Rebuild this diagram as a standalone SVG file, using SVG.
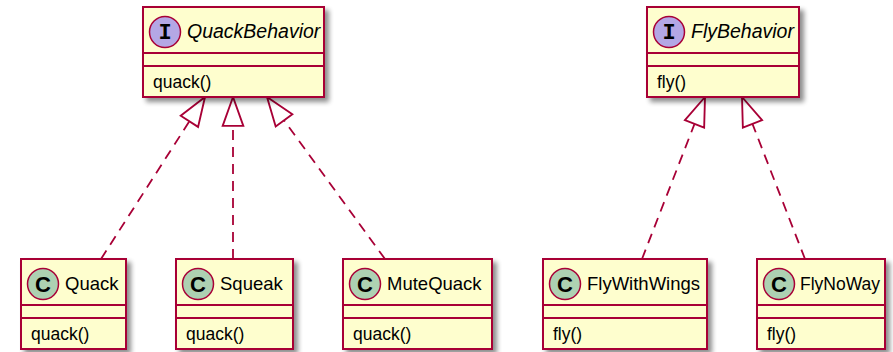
<svg xmlns="http://www.w3.org/2000/svg" width="893" height="352" viewBox="0 0 893 352">
<style>
.box{fill:#FEFECE;stroke:#A80036;stroke-width:2;filter:url(#sh)}
.div{stroke:#A80036;stroke-width:2}
.ci{fill:#B4A7E5;stroke:#A80036;stroke-width:1.5}
.cc{fill:#ADD1B2;stroke:#A80036;stroke-width:1.5}
.name{font-family:"Liberation Sans",Arial,sans-serif;font-size:18.5px;fill:#000}
.iname{font-family:"Liberation Sans",Arial,sans-serif;font-size:19.5px;font-style:italic;fill:#000}
.mem{font-family:"Liberation Sans",Arial,sans-serif;font-size:17.5px;fill:#000}
.lc{font-family:"Liberation Sans",Arial,sans-serif;font-size:22px;font-weight:bold;fill:#000;text-anchor:middle}
.li{font-family:"Liberation Mono","Courier New",monospace;font-size:22px;font-weight:bold;fill:#000;text-anchor:middle}
.edge{fill:none;stroke:#A80036;stroke-width:1.8;stroke-dasharray:10,7;marker-end:url(#tri)}
</style>
<defs>
<filter id="sh" x="-10%" y="-10%" width="130%" height="130%">
<feGaussianBlur in="SourceAlpha" stdDeviation="2.5"/>
<feOffset dx="4" dy="4" result="b"/>
<feComponentTransfer><feFuncA type="linear" slope="0.45"/></feComponentTransfer>
<feMerge><feMergeNode/><feMergeNode in="SourceGraphic"/></feMerge>
</filter>
<marker id="tri" markerUnits="userSpaceOnUse" markerWidth="32" markerHeight="24" viewBox="-1 -1 31 22" refX="28" refY="10" orient="auto" overflow="visible">
<path d="M28,10 L0,0 L0,20 Z" fill="#FFFFFF" stroke="#A80036" stroke-width="1.8" stroke-dasharray="none"/>
</marker>
</defs>

<g id="connectors">
<line class="edge" x1="101" y1="259" x2="205" y2="97"/>
<line class="edge" x1="233" y1="259" x2="233" y2="97"/>
<line class="edge" x1="385" y1="259" x2="267" y2="97"/>
<line class="edge" x1="642" y1="259" x2="705" y2="97"/>
<line class="edge" x1="805" y1="259" x2="742" y2="97"/>
</g>

<g id="QuackBehavior">
<rect class="box" x="143" y="7" width="181" height="90"/>
<line class="div" x1="143" y1="53" x2="324" y2="53"/>
<line class="div" x1="143" y1="66" x2="324" y2="66"/>
<circle class="ci" cx="165" cy="32" r="15.5"/>
<text class="li" x="165" y="39">I</text>
<text class="iname" x="187" y="38">QuackBehavior</text>
<text class="mem" x="153" y="88">quack()</text>
</g>

<g id="FlyBehavior">
<rect class="box" x="647" y="7" width="152" height="90"/>
<line class="div" x1="647" y1="53" x2="799" y2="53"/>
<line class="div" x1="647" y1="66" x2="799" y2="66"/>
<circle class="ci" cx="669" cy="32" r="15.5"/>
<text class="li" x="669" y="39">I</text>
<text class="iname" x="691" y="38">FlyBehavior</text>
<text class="mem" x="657" y="88">fly()</text>
</g>

<g id="Quack">
<rect class="box" x="21" y="259" width="105" height="90"/>
<line class="div" x1="21" y1="305" x2="126" y2="305"/>
<line class="div" x1="21" y1="318" x2="126" y2="318"/>
<circle class="cc" cx="43" cy="284" r="15.5"/>
<text class="lc" x="43" y="292">C</text>
<text class="name" x="65" y="290">Quack</text>
<text class="mem" x="31" y="340">quack()</text>
</g>

<g id="Squeak">
<rect class="box" x="176" y="259" width="117" height="90"/>
<line class="div" x1="176" y1="305" x2="293" y2="305"/>
<line class="div" x1="176" y1="318" x2="293" y2="318"/>
<circle class="cc" cx="198" cy="284" r="15.5"/>
<text class="lc" x="198" y="292">C</text>
<text class="name" x="220" y="290">Squeak</text>
<text class="mem" x="186" y="340">quack()</text>
</g>

<g id="MuteQuack">
<rect class="box" x="343" y="259" width="149" height="90"/>
<line class="div" x1="343" y1="305" x2="492" y2="305"/>
<line class="div" x1="343" y1="318" x2="492" y2="318"/>
<circle class="cc" cx="365" cy="284" r="15.5"/>
<text class="lc" x="365" y="292">C</text>
<text class="name" x="387" y="290">MuteQuack</text>
<text class="mem" x="353" y="340">quack()</text>
</g>

<g id="FlyWithWings">
<rect class="box" x="543" y="259" width="164" height="90"/>
<line class="div" x1="543" y1="305" x2="707" y2="305"/>
<line class="div" x1="543" y1="318" x2="707" y2="318"/>
<circle class="cc" cx="565" cy="284" r="15.5"/>
<text class="lc" x="565" y="292">C</text>
<text class="name" x="587" y="290">FlyWithWings</text>
<text class="mem" x="553" y="340">fly()</text>
</g>

<g id="FlyNoWay">
<rect class="box" x="757" y="259" width="128" height="90"/>
<line class="div" x1="757" y1="305" x2="885" y2="305"/>
<line class="div" x1="757" y1="318" x2="885" y2="318"/>
<circle class="cc" cx="779" cy="284" r="15.5"/>
<text class="lc" x="779" y="292">C</text>
<text class="name" x="800" y="290" style="font-size:17.5px">FlyNoWay</text>
<text class="mem" x="767" y="340">fly()</text>
</g>
</svg>
